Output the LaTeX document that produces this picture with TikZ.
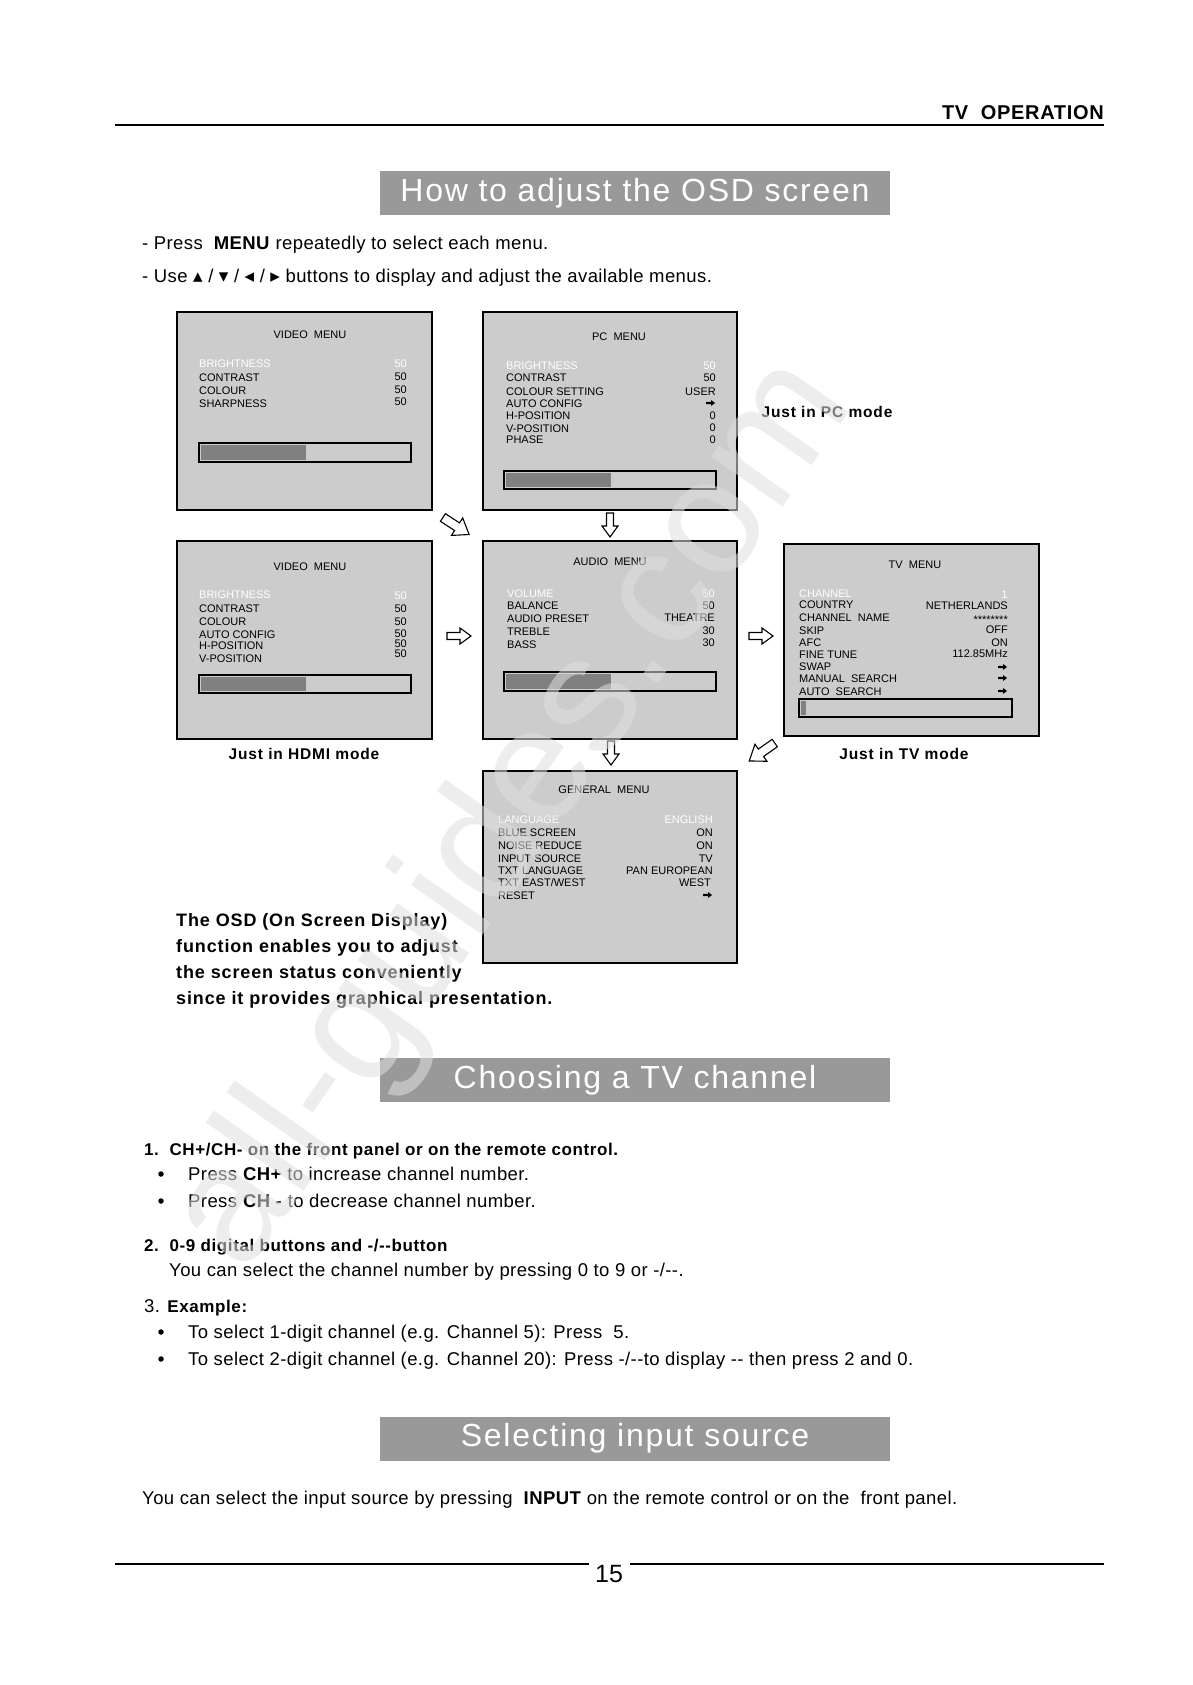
\documentclass[tikz,border=0pt]{standalone}
\usepackage{fontspec}
\setmainfont{Liberation Sans}
\newfontfamily\symf{DejaVu Sans}
\newfontfamily\bodyf[LetterSpace=2.2]{Liberation Sans}
\newfontfamily\osdf[LetterSpace=4.8]{Liberation Sans}
\newfontfamily\headf[LetterSpace=3.5]{Liberation Sans}
\newfontfamily\titlef[LetterSpace=5.5]{Liberation Sans}
\newfontfamily\lblf[LetterSpace=5.5]{Liberation Sans}
\newfontfamily\menuf{Liberation Sans}
\usetikzlibrary{calc}
\definecolor{boxgray}{RGB}{204,204,204}
\definecolor{titlegray}{RGB}{153,153,153}
\definecolor{bargray}{RGB}{128,128,128}
\definecolor{wmgray}{RGB}{224,224,224}
\newcommand{\tri}[1]{{\symf\fontsize{19}{21}\selectfont #1}}
\begin{document}
\begin{tikzpicture}[x=1pt,y=-1pt,
  menubox/.style={draw=black,line width=1.8,fill=boxgray,minimum width=255,minimum height=198,inner sep=0},
  titlebox/.style={fill=titlegray,minimum width=510,minimum height=44,inner sep=0,text=white,font=\titlef\fontsize{32}{36}\selectfont},
  mfont/.style={font=\menuf\fontsize{11}{13}\selectfont,inner sep=0},
  mt/.style={mfont,anchor=base},
  ml/.style={mfont,anchor=base west},
  mr/.style={mfont,anchor=base east},
  hl/.style={text=white},
  body/.style={font=\bodyf\fontsize{18.5}{21}\selectfont,inner sep=0,anchor=base west},
  osd/.style={font=\osdf\bfseries\fontsize{18}{21}\selectfont,inner sep=0,anchor=base west},
  head/.style={font=\headf\bfseries\fontsize{17}{20}\selectfont,inner sep=0,anchor=base west},
  boldlbl/.style={font=\lblf\bfseries\fontsize{15.5}{18}\selectfont,inner sep=0,anchor=base},
  bulletdot/.style={circle,fill=black,inner sep=0,minimum size=5.5},
  barframe/.style={draw=black,line width=1.4,fill=boxgray},
  barfill/.style={fill=bargray},
  blockarrow/.pic={\draw[line width=1.1,fill=white,line join=miter] (-12,-3.5) -- (1,-3.5) -- (1,-8) -- (12,0) -- (1,8) -- (1,3.5) -- (-12,3.5) -- cycle;},
  smallarr/.pic={\fill (-5,-1.2) -- (0,-1.2) -- (0,-3) -- (4,0) -- (0,3) -- (0,1.2) -- (-5,1.2) -- cycle;}
]
\useasboundingbox (0,0) rectangle (1192,1685);
\fill[white] (0,0) rectangle (1192,1685);

% header
\node[anchor=base east,inner sep=0,font=\headf\bfseries\fontsize{20}{24}\selectfont] (hdr) at (1104,120) {TV\ \ OPERATION};
\draw[line width=1.3] (115,125) -- (1104,125);

% title 1
\node[titlebox] (t1) at (635,193) {How to adjust the OSD screen};
\node[body] (p1) at (142,250) {- Press\ \ \textbf{MENU} repeatedly to select each menu.};
\node[body] (p2) at (142,283) {- Use \tri{▴} / \tri{▾} / \tri{◂} / \tri{▸} buttons to display and adjust the available menus.};

% ---------- VIDEO MENU (top)
\node[menubox] (vbox) at (304.5,411) {};
\node[mt] (vt) at (310,338) {VIDEO\ \ MENU};
\node[ml,hl] (v1) at (199,367) {BRIGHTNESS}; \node[mr,hl] (v1v) at (407,367) {50};
\node[ml] (v2) at (199,381) {CONTRAST};   \node[mr] (v2v) at (407,380) {50};
\node[ml] (v3) at (199,394) {COLOUR};     \node[mr] (v3v) at (407,393) {50};
\node[ml] (v4) at (199,407) {SHARPNESS};  \node[mr] (v4v) at (407,405) {50};
\draw[barframe] (199,443) rectangle (411,462);
\fill[barfill] (201,445) rectangle (306,460);

% ---------- PC MENU
\node[menubox,minimum width=254] (pbox) at (610,411) {};
\node[mt] (pt) at (619,340) {PC\ \ MENU};
\node[ml,hl] (p1a) at (506,369) {BRIGHTNESS};     \node[mr,hl] (p1b) at (716,369) {50};
\node[ml] (p2a) at (506,381) {CONTRAST};          \node[mr] (p2b) at (716,381) {50};
\node[ml] (p3a) at (506,395) {COLOUR SETTING};    \node[mr] (p3b) at (716,395) {USER};
\node[ml] (p4a) at (506,407) {AUTO CONFIG};       \pic at (711,403) {smallarr};
\node[ml] (p5a) at (506,419) {H-POSITION};        \node[mr] (p5b) at (716,419) {0};
\node[ml] (p6a) at (506,432) {V-POSITION};        \node[mr] (p6b) at (716,431) {0};
\node[ml] (p7a) at (506,443) {PHASE};             \node[mr] (p7b) at (716,443) {0};
\draw[barframe] (504,471) rectangle (716,489);
\fill[barfill] (506,473) rectangle (611,487);
\node[boldlbl] (jpc) at (827,417) {Just in PC mode};

% ---------- VIDEO MENU (HDMI)
\node[menubox] (hbox) at (304.5,640) {};
\node[mt] (ht) at (310,570) {VIDEO\ \ MENU};
\node[ml,hl] (h1) at (199,598) {BRIGHTNESS};  \node[mr,hl] (h1v) at (407,599) {50};
\node[ml] (h2) at (199,612) {CONTRAST};       \node[mr] (h2v) at (407,612) {50};
\node[ml] (h3) at (199,625) {COLOUR};         \node[mr] (h3v) at (407,625) {50};
\node[ml] (h4) at (199,638) {AUTO CONFIG};    \node[mr] (h4v) at (407,637) {50};
\node[ml] (h5) at (199,649) {H-POSITION};     \node[mr] (h5v) at (407,647) {50};
\node[ml] (h6) at (199,662) {V-POSITION};     \node[mr] (h6v) at (407,657) {50};
\draw[barframe] (199,675) rectangle (411,693);
\fill[barfill] (201,677) rectangle (306,691);
\node[boldlbl] (jhdmi) at (304,759) {Just in HDMI mode};

% ---------- AUDIO MENU
\node[menubox,minimum width=254] (abox) at (610,640) {};
\node[mt] (at) at (610,565) {AUDIO\ \ MENU};
\node[ml,hl] (a1) at (507,597) {VOLUME};       \node[mr,hl] (a1v) at (715,597) {50};
\node[ml] (a2) at (507,609) {BALANCE};         \node[mr] (a2v) at (715,609) {50};
\node[ml] (a3) at (507,622) {AUDIO PRESET};    \node[mr] (a3v) at (715,621) {THEATRE};
\node[ml] (a4) at (507,635) {TREBLE};          \node[mr] (a4v) at (715,634) {30};
\node[ml] (a5) at (507,648) {BASS};            \node[mr] (a5v) at (715,646) {30};
\draw[barframe] (504,672) rectangle (716,691);
\fill[barfill] (506,674) rectangle (611,689);

% ---------- TV MENU
\node[menubox,minimum height=192] (tbox) at (911.5,640) {};
\node[mt] (tt) at (915,568) {TV\ \ MENU};
\node[ml,hl] (c1) at (799,597) {CHANNEL};        \node[mr,hl] (c1v) at (1008,598) {1};
\node[ml] (c2) at (799,608) {COUNTRY};           \node[mr] (c2v) at (1008,609) {NETHERLANDS};
\node[ml] (c3) at (799,621) {CHANNEL\ \ NAME};   \node[mr] (c3v) at (1008,623) {********};
\node[ml] (c4) at (799,634) {SKIP};              \node[mr] (c4v) at (1008,633) {OFF};
\node[ml] (c5) at (799,646) {AFC};               \node[mr] (c5v) at (1008,646) {ON};
\node[ml] (c6) at (799,658) {FINE TUNE};         \node[mr] (c6v) at (1008,657) {112.85MHz};
\node[ml] (c7) at (799,670) {SWAP};              \pic at (1003,667) {smallarr};
\node[ml] (c8) at (799,682) {MANUAL\ \ SEARCH};  \pic at (1003,678) {smallarr};
\node[ml] (c9) at (799,695) {AUTO\ \ SEARCH};    \pic at (1003,691) {smallarr};
\draw[barframe] (799,699) rectangle (1012,717);
\fill[barfill] (801,701) rectangle (806,715);
\node[boldlbl] (jtv) at (904,759) {Just in TV mode};

% ---------- GENERAL MENU
\node[menubox,minimum width=254,minimum height=192] (gbox) at (610,867) {};
\node[mt] (gt) at (604,793) {GENERAL\ \ MENU};
\node[ml,hl] (g1) at (498,823) {LANGUAGE};        \node[mr,hl] (g1v) at (713,823) {ENGLISH};
\node[ml] (g2) at (498,836) {BLUE SCREEN};        \node[mr] (g2v) at (713,836) {ON};
\node[ml] (g3) at (498,849) {NOISE REDUCE};       \node[mr] (g3v) at (713,849) {ON};
\node[ml] (g4) at (498,862) {INPUT SOURCE};       \node[mr] (g4v) at (713,862) {TV};
\node[ml] (g5) at (498,874) {TXT LANGUAGE};       \node[mr] (g5v) at (713,874) {PAN EUROPEAN};
\node[ml] (g6) at (498,886) {TXT EAST/WEST};      \node[mr] (g6v) at (711,886) {WEST};
\node[ml] (g7) at (498,899) {RESET};              \pic at (708,895) {smallarr};

% ---------- block arrows
\pic[rotate=-33,scale=1.3] at (456,526) {blockarrow};
\pic[rotate=-90] at (610,525) {blockarrow};
\pic at (459,636) {blockarrow};
\pic at (761,636) {blockarrow};
\pic[rotate=-90] at (611,753) {blockarrow};
\pic[rotate=-145,scale=1.3] at (762,752) {blockarrow};

% ---------- OSD paragraph
\node[osd] (o1) at (176,926) {The OSD (On Screen Display)};
\node[osd] (o2) at (176,952) {function enables you to adjust};
\node[osd] (o3) at (176,978) {the screen status conveniently};
\node[osd] (o4) at (176,1004) {since it provides graphical presentation.};

% ---------- Choosing a TV channel
\node[titlebox] (t2) at (635,1080) {Choosing a TV channel};
\node[head] (s1) at (144,1155) {1.\ \ CH+/CH- on the front panel or on the remote control.};
\node[bulletdot] (b1d) at (161,1174) {};
\node[body] (b1) at (188,1180) {Press \textbf{CH+} to increase channel number.};
\node[bulletdot] (b2d) at (161,1201) {};
\node[body] (b2) at (188,1207) {Press \textbf{CH -} to decrease channel number.};
\node[head] (s2) at (144,1251) {2.\ \ 0-9 digital buttons and -/-{}-button};
\node[body] (s2t) at (169,1276) {You can select the channel number by pressing 0 to 9 or -/-{}-.};
\node[body] (s3) at (144,1312) {3. {\headf\bfseries\fontsize{17}{20}\selectfont Example:}};
\node[bulletdot] (b3d) at (161,1332) {};
\node[body] (b3) at (188,1338) {To select 1-digit channel (e.g. Channel 5): Press\ \ 5.};
\node[bulletdot] (b4d) at (161,1359) {};
\node[body] (b4) at (188,1365) {To select 2-digit channel (e.g. Channel 20): Press -/-{}-to display -{}- then press 2 and 0.};

% ---------- Selecting input source
\node[titlebox] (t3) at (635,1438.5) {Selecting input source};
\node[body] (in1) at (142,1504) {You can select the input source by pressing\ \ \textbf{INPUT} on the remote control or on the\ \ front panel.};

% ---------- footer
\node[inner sep=0,font=\fontsize{25}{28}\selectfont] (pg) at (609,1574) {15};
\draw[line width=2] (115,1564) -- (589,1564);
\draw[line width=2] (630,1564) -- (1104,1564);

% ---------- watermark
\node[rotate=55,inner sep=0,text=wmgray,opacity=0.55,font=\fontsize{165}{165}\selectfont] (wm) at (515,815) {all-guides.com};
\end{tikzpicture}
\end{document}
